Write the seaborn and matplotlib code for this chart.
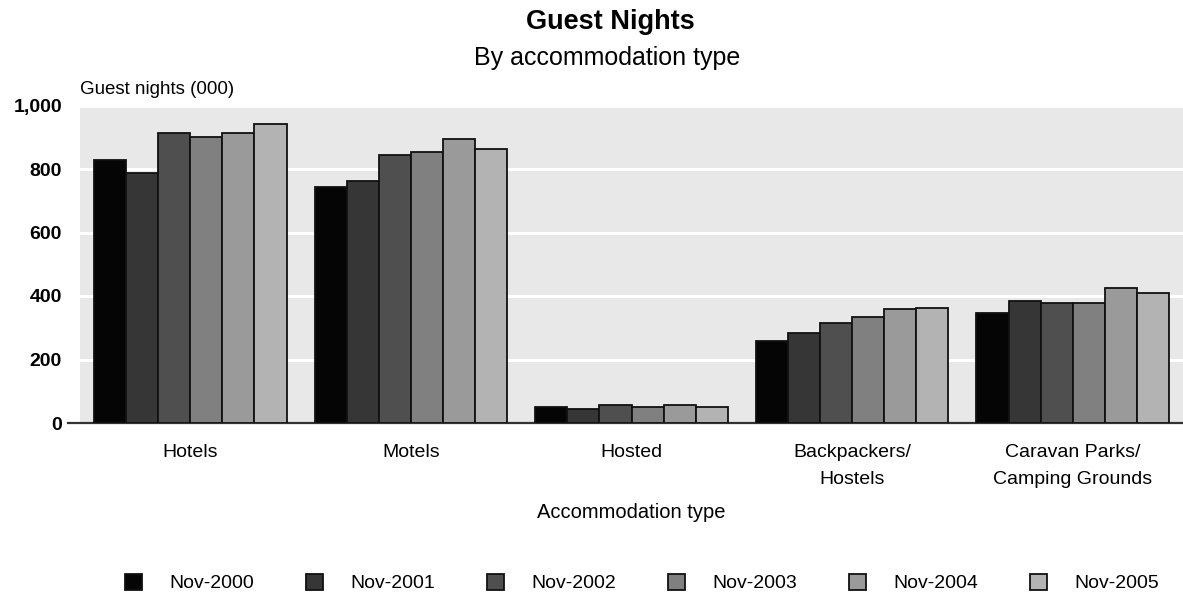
import matplotlib
matplotlib.use("Agg")
import matplotlib.pyplot as plt
import matplotlib.patches as mpatches
import seaborn as sns
import pandas as pd

# Guest nights (000) by accommodation type, November of each year
categories = ["Hotels", "Motels", "Hosted", "Backpackers/\nHostels",
              "Caravan Parks/\nCamping Grounds"]
periods = ["Nov-2000", "Nov-2001", "Nov-2002", "Nov-2003", "Nov-2004", "Nov-2005"]
nov_2000 = [827, 744, 51, 259, 347]
nov_2001 = [786, 763, 45, 283, 383]
nov_2002 = [914, 844, 56, 314, 377]
nov_2003 = [902, 853, 50, 333, 377]
nov_2004 = [914, 894, 56, 358, 426]
nov_2005 = [941, 863, 49, 363, 408]
y_ticks = [0, 200, 400, 600, 800, 1000]
y_tick_labels = ["0", "200", "400", "600", "800", "1,000"]

series = [nov_2000, nov_2001, nov_2002, nov_2003, nov_2004, nov_2005]
df = pd.DataFrame(
    [(cat, per, vals[i]) for per, vals in zip(periods, series)
     for i, cat in enumerate(categories)],
    columns=["type", "period", "nights"],
)

palette = ["#050505", "#363636", "#4f4f4f", "#808080", "#9a9a9a", "#b3b3b3"]

sns.set_theme(style="white")
plt.rcParams["font.family"] = ["Liberation Sans", "DejaVu Sans"]
plt.rcParams["text.color"] = "black"
plt.rcParams["axes.labelcolor"] = "black"
plt.rcParams["xtick.color"] = "black"
plt.rcParams["ytick.color"] = "black"

W, H = 1183, 598
fig = plt.figure(figsize=(W / 100, H / 100), dpi=100)
ax = fig.add_axes([80 / W, (H - 423) / H, (W - 80) / W, (423 - 105.5) / H])
ax.set_facecolor("#e8e8e8")

sns.barplot(data=df, x="type", y="nights", hue="period", order=categories,
            hue_order=periods, palette=palette, saturation=1, width=0.873,
            edgecolor="#111111", linewidth=1.3, ax=ax, legend=False, zorder=3)

ax.set_xlim(-0.5, 4.5)
ax.set_ylim(0, 1000)
ax.set_yticks(y_ticks)
ax.set_yticklabels(y_tick_labels, fontsize=14, fontweight="bold")
ax.yaxis.grid(True, color="white", linewidth=2.2, zorder=0)
ax.set_axisbelow(True)
ax.tick_params(axis="y", length=0, pad=13)
ax.tick_params(axis="x", length=0, pad=15)
for lbl in ax.get_xticklabels():
    lbl.set_fontsize(14)
    lbl.set_linespacing(1.75)
    lbl.set_verticalalignment("top")

for side in ["left", "right", "top"]:
    ax.spines[side].set_visible(False)
ax.spines["bottom"].set_color("#333333")
ax.spines["bottom"].set_linewidth(1.6)
ax.spines["bottom"].set_bounds(-0.555, 4.5)

ax.set_xlabel("Accommodation type", fontsize=14.5, labelpad=11)
ax.set_ylabel("")

fig.text(80 / W, 1 - 90 / H, "Guest nights (000)", fontsize=13.5,
         ha="left", va="center")
fig.text(610 / W, 1 - 22 / H, "Guest Nights", fontsize=19.5, fontweight="bold",
         ha="center", va="center")
fig.text(607 / W, 1 - 58 / H, "By accommodation type", fontsize=18,
         ha="center", va="center")

handles = [mpatches.Patch(facecolor=c, edgecolor="#111111", linewidth=1.3)
           for c in palette]
fig.legend(handles, periods, loc="center", ncol=6, frameon=False,
           bbox_to_anchor=(642 / W, 1 - 583 / H), fontsize=14,
           handlelength=0.9, handleheight=0.9, handletextpad=1.4,
           columnspacing=2.65)

fig.savefig("out.png", dpi=100)
